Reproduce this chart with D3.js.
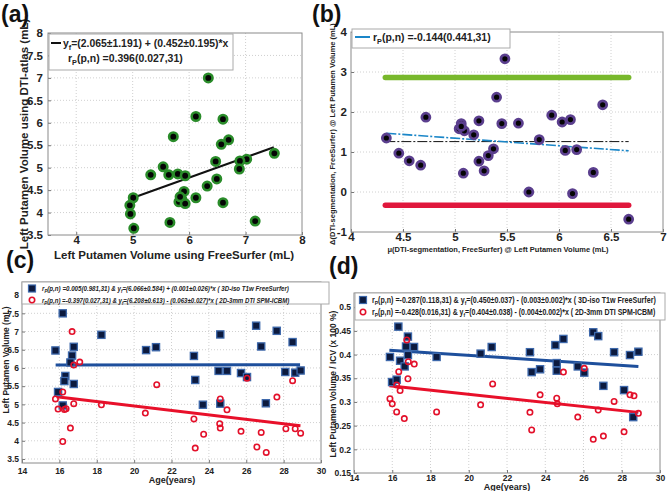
<!DOCTYPE html>
<html><head><meta charset="utf-8">
<script src="https://cdn.jsdelivr.net/npm/d3@7"></script>
<style>
html,body{margin:0;padding:0;background:#fff;}
svg text{font-family:"Liberation Sans",Arial,sans-serif;}
</style></head>
<body><svg id="c" width="667" height="491"></svg>
<script>
// ---------- DATA ----------
// Panel (a)
const aX = [6.34,6.12,6.60,5.72,6.70,6.57,7.51,7.02,6.90,6.47,5.54,6.89,5.32,5.64,5.80,5.93,6.49,6.32,5.91,5.01,6.12,5.87,5.82,5.93,6.60,4.95,4.96,5.66,7.17,5.02,5.84];
const aY = [7.00,6.14,6.08,5.69,5.62,5.52,5.32,5.19,5.15,5.14,5.02,4.97,4.84,4.84,4.86,4.82,4.75,4.59,4.47,4.33,4.33,4.30,4.24,4.20,4.22,4.16,3.97,3.78,3.81,3.65,4.35];
const aFitX = [5.02, 7.5];
const aFitY = [4.334, 5.455];
const aXTicks = [4,5,6,7,8];
const aYTicks = [3.5,4,4.5,5,5.5,6,6.5,7,7.5,8];
// Panel (b)
const bX = [5.48,5.40,6.42,5.93,4.72,6.03,6.11,5.23,5.45,5.61,5.06,5.04,5.09,5.18,4.34,5.81,5.37,4.46,6.06,6.17,5.32,4.56,5.23,4.67,5.28,5.08,6.33,5.71,6.13,6.67,5.06];
const bY = [3.33,2.37,2.18,1.92,1.87,1.75,1.81,1.78,1.71,1.72,1.71,1.58,1.53,1.43,1.35,1.31,1.08,0.97,1.04,1.06,0.91,0.78,0.77,0.67,0.53,0.47,0.49,0.00,-0.04,-0.68,1.64];
const bRangeX = [4.33, 6.67];
const bUpper = 2.86, bLower = -0.33, bMean = 1.26;
const bFitX = [4.34, 6.67];
const bFitY = [1.47, 1.03];
const bXTicks = [4,4.5,5,5.5,6,6.5,7];
const bYTicks = [-1,0,1,2,3,4];
// Panel (c)
const cBlueAge = [16.18,15.79,18.25,16.77,16.68,16.59,16.32,16.27,16.77,15.93,16.18,21.17,23.20,23.27,24.61,24.52,24.97,23.68,24.61,25.72,26.04,26.53,26.80,27.05,27.63,28.09,28.48,28.62,28.91,20.64];
const cBlueVal = [7.50,6.48,6.91,6.58,6.34,6.15,5.78,5.64,5.56,5.34,4.97,6.57,6.33,5.67,6.92,5.92,5.92,4.99,5.02,5.86,5.75,7.16,6.59,5.03,7.02,5.89,6.71,5.87,5.93,6.49];
const cRedAge = [16.68,17.09,16.77,16.18,15.79,16.77,15.93,16.27,16.36,16.59,16.18,18.25,21.21,23.20,23.27,23.72,24.61,24.58,24.61,24.97,25.72,26.04,26.57,26.80,27.07,27.64,28.12,28.48,28.62,28.91,20.60];
const cRedVal = [7.00,6.16,6.08,5.34,5.15,5.02,4.87,4.86,4.88,4.35,3.98,4.99,5.54,4.60,3.80,4.18,5.15,4.47,4.35,4.85,4.26,5.72,3.83,4.23,3.68,5.20,4.33,5.65,4.33,4.21,4.76];
const cBlueFitX = [15.8, 28.88], cBlueFitY = [6.08, 6.09];
const cRedFitX = [15.85, 28.9], cRedFitY = [5.21, 4.41];
const cXTicks = [14,16,18,20,22,24,26,28,30];
const cYTicks = [3.5,4,4.5,5,5.5,6,6.5,7,7.5,8];
// Panel (d)
const dBlueAge = [16.32,16.82,16.72,17.14,15.88,16.41,16.82,16.65,18.32,15.99,16.23,20.62,21.20,23.20,23.29,23.73,24.53,24.95,24.60,24.60,25.70,26.04,26.51,26.77,27.04,27.60,28.12,28.43,28.60,28.87];
const dBlueVal = [0.459,0.438,0.417,0.416,0.395,0.387,0.399,0.375,0.395,0.342,0.347,0.402,0.416,0.405,0.363,0.369,0.420,0.433,0.382,0.366,0.375,0.362,0.447,0.439,0.334,0.405,0.325,0.399,0.268,0.406];
const dRedAge = [16.76,16.84,17.15,16.34,16.82,16.23,16.41,15.88,16.00,16.23,16.63,18.32,20.62,21.25,23.20,23.29,23.73,24.95,24.60,24.63,25.70,26.04,26.51,26.77,27.04,27.60,28.12,28.43,28.64,28.87];
const dRedVal = [0.431,0.385,0.380,0.364,0.349,0.336,0.324,0.307,0.296,0.279,0.265,0.279,0.294,0.338,0.278,0.241,0.315,0.363,0.308,0.296,0.268,0.371,0.221,0.283,0.228,0.301,0.237,0.315,0.313,0.276];
const dBlueFitX = [15.85, 28.87], dBlueFitY = [0.409, 0.375];
const dRedFitX = [15.85, 28.87], dRedFitY = [0.334, 0.278];
const dXTicks = [14,16,18,20,22,24,26,28,30];
const dYTicks = [0.15,0.2,0.25,0.3,0.35,0.4,0.45,0.5];

// ---------- DRAW ----------
const svg = d3.select("#c");
const fmt = v => String(+v.toFixed(3));

// horizontally condense a text so it spans exactly `w` pixels
function fitWidth(t, x, w){
  const bw = t.node().getBBox().width;
  if (bw > 0) t.attr("transform", `translate(${x},0) scale(${w/bw},1) translate(${-x},0)`);
}

function frame(o){
  const g = svg.append("g");
  const x = d3.scaleLinear().domain(o.xd).range([o.l, o.r]);
  const y = d3.scaleLinear().domain(o.yd).range([o.b, o.t]);
  g.selectAll(".gx").data(o.xt.filter(v=>x(v)>o.l+0.5 && x(v)<o.r-0.5)).enter().append("line")
    .attr("x1",d=>x(d)).attr("x2",d=>x(d)).attr("y1",o.t).attr("y2",o.b)
    .attr("stroke","#c4c4c4").attr("stroke-width",0.8).attr("stroke-dasharray","1,2");
  g.selectAll(".gy").data(o.yt.filter(v=>y(v)>o.t+0.5 && y(v)<o.b-0.5)).enter().append("line")
    .attr("y1",d=>y(d)).attr("y2",d=>y(d)).attr("x1",o.l).attr("x2",o.r)
    .attr("stroke","#c4c4c4").attr("stroke-width",0.8).attr("stroke-dasharray","1,2");
  const ax = g.append("g").attr("transform",`translate(0,${o.b})`)
    .call(d3.axisBottom(x).tickValues(o.xt).tickFormat(fmt).tickSizeInner(-3).tickSizeOuter(0).tickPadding(o.xpad));
  const ay = g.append("g").attr("transform",`translate(${o.l},0)`)
    .call(d3.axisLeft(y).tickValues(o.yt).tickFormat(fmt).tickSizeInner(-3).tickSizeOuter(0).tickPadding(o.ypad));
  [ax,ay].forEach(a=>{
    a.select(".domain").remove();
    a.selectAll("line").attr("stroke","#777");
    a.selectAll("text").attr("font-size",o.fs).attr("font-weight","bold").attr("fill","#222")
     .attr("font-family","Liberation Sans, Arial, sans-serif");
  });
  g.append("rect").attr("x",o.l).attr("y",o.t).attr("width",o.r-o.l).attr("height",o.b-o.t)
    .attr("fill","none").attr("stroke","#8a8a8a").attr("stroke-width",1);
  return {g,x,y};
}

function label(txt, x, y, fs, rot){
  const t = svg.append("text").attr("x",x).attr("y",y).attr("font-size",fs)
    .attr("font-weight","bold").attr("fill","#222").attr("text-anchor","middle").text(txt);
  if (rot) t.attr("transform",`rotate(-90,${x},${y})`);
  return t;
}

// ===== Panel (a) =====
{
  const {g,x,y} = frame({l:48,r:302,t:33,b:235,xd:[3.5,8],yd:[3.5,8],xt:aXTicks,yt:aYTicks,fs:11.5,xpad:1,ypad:5});
  g.append("line").attr("x1",x(aFitX[0])).attr("x2",x(aFitX[1])).attr("y1",y(aFitY[0])).attr("y2",y(aFitY[1]))
    .attr("stroke","#111").attr("stroke-width",2);
  g.selectAll(".pa").data(aX.map((v,i)=>[v,aY[i]])).enter().append("circle")
    .attr("cx",d=>x(d[0])).attr("cy",d=>y(d[1])).attr("r",4.2)
    .attr("fill","#050505").attr("stroke","#2a8c2a").attr("stroke-width",2.6);
  g.append("rect").attr("x",49).attr("y",34).attr("width",184).attr("height",36).attr("fill","#fff").attr("stroke","#aaa");
  g.append("line").attr("x1",51).attr("x2",61).attr("y1",43).attr("y2",43).attr("stroke","#111").attr("stroke-width",2);
  const t1 = g.append("text").attr("x",63).attr("y",47).attr("font-size",11.5).attr("font-weight","bold").attr("fill","#222");
  t1.append("tspan").text("y");
  t1.append("tspan").attr("dy",3).attr("font-size",8).text("f");
  t1.append("tspan").attr("dy",-3).text("=(2.065±1.191) + (0.452±0.195)*x");
  fitWidth(t1, 63, 166);
  const t2 = g.append("text").attr("x",68).attr("y",62).attr("font-size",11.5).attr("font-weight","bold").attr("fill","#222");
  t2.append("tspan").text("r");
  t2.append("tspan").attr("dy",3).attr("font-size",8).text("P");
  t2.append("tspan").attr("dy",-3).text("(p,n) =0.396(0.027,31)");
  fitWidth(t2, 68, 115);
  label("Left Putamen Volume using DTI-atlas (mL)", 28, 134, 11.5, true);
  label("Left Putamen Volume using FreeSurfer (mL)", 174, 259, 11.5);
  svg.append("text").attr("x",1).attr("y",22).attr("font-size",23).attr("font-weight","bold").attr("fill","#111").text("(a)");
}

// ===== Panel (b) =====
{
  const {g,x,y} = frame({l:351,r:663,t:32,b:232,xd:[4,7],yd:[-1,4],xt:bXTicks,yt:bYTicks,fs:11.5,xpad:1,ypad:4});
  g.append("line").attr("x1",x(bRangeX[0])).attr("x2",x(bRangeX[1])).attr("y1",y(bUpper)).attr("y2",y(bUpper))
    .attr("stroke","#78b82c").attr("stroke-width",5.5).attr("stroke-linecap","round");
  g.append("line").attr("x1",x(bRangeX[0])).attr("x2",x(bRangeX[1])).attr("y1",y(bLower)).attr("y2",y(bLower))
    .attr("stroke","#e0173c").attr("stroke-width",5.5).attr("stroke-linecap","round");
  g.append("line").attr("x1",x(bRangeX[0])).attr("x2",x(bRangeX[1])).attr("y1",y(bMean)).attr("y2",y(bMean))
    .attr("stroke","#111").attr("stroke-width",1).attr("stroke-dasharray","10,2,2,2");
  g.append("line").attr("x1",x(bFitX[0])).attr("x2",x(bFitX[1])).attr("y1",y(bFitY[0])).attr("y2",y(bFitY[1]))
    .attr("stroke","#1a86c8").attr("stroke-width",1.6).attr("stroke-dasharray","10,2,2,2");
  g.selectAll(".pb").data(bX.map((v,i)=>[v,bY[i]])).enter().append("circle")
    .attr("cx",d=>x(d[0])).attr("cy",d=>y(d[1])).attr("r",4)
    .attr("fill","#050505").attr("stroke","#5b3f8e").attr("stroke-width",2.8);
  g.append("rect").attr("x",352).attr("y",29).attr("width",158).attr("height",19).attr("fill","#fff").attr("stroke","#aaa");
  g.append("line").attr("x1",355).attr("x2",370).attr("y1",37).attr("y2",37).attr("stroke","#1a86c8").attr("stroke-width",2);
  const t = g.append("text").attr("x",373).attr("y",41).attr("font-size",11.5).attr("font-weight","bold").attr("fill","#222");
  t.append("tspan").text("r");
  t.append("tspan").attr("dy",3).attr("font-size",8).text("P");
  t.append("tspan").attr("dy",-3).text("(p,n) =-0.144(0.441,31)");
  fitWidth(t, 373, 118);
  label("Δ(DTI-segmentation, FreeSurfer) @ Left Putamen Volume (mL)", 335, 134, 7.5, true);
  label("μ(DTI-segmentation, FreeSurfer) @ Left Putamen Volume (mL)", 498, 252, 7.5);
  svg.append("text").attr("x",312).attr("y",22).attr("font-size",23).attr("font-weight","bold").attr("fill","#111").text("(b)");
}

function seriesPanel(o){
  const {g,x,y} = frame(o.frame);
  g.append("line").attr("x1",x(o.bfx[0])).attr("x2",x(o.bfx[1])).attr("y1",y(o.bfy[0])).attr("y2",y(o.bfy[1]))
    .attr("stroke","#1e4f9c").attr("stroke-width",3);
  g.append("line").attr("x1",x(o.rfx[0])).attr("x2",x(o.rfx[1])).attr("y1",y(o.rfy[0])).attr("y2",y(o.rfy[1]))
    .attr("stroke","#e8102a").attr("stroke-width",3);
  g.selectAll(".sq").data(o.ba.map((v,i)=>[v,o.bv[i]])).enter().append("rect")
    .attr("x",d=>x(d[0])-3.6).attr("y",d=>y(d[1])-3.6).attr("width",7.2).attr("height",7.2)
    .attr("fill","#0c1a3e").attr("stroke","#3d68ab").attr("stroke-width",1.3);
  g.selectAll(".ci").data(o.ra.map((v,i)=>[v,o.rv[i]])).enter().append("circle")
    .attr("cx",d=>x(d[0])).attr("cy",d=>y(d[1])).attr("r",2.7)
    .attr("fill","none").attr("stroke","#e3102a").attr("stroke-width",1.6);
  const L = o.leg;
  g.append("rect").attr("x",L.x).attr("y",L.y).attr("width",L.w).attr("height",L.h).attr("fill","#fff").attr("stroke","#aaa");
  g.append("rect").attr("x",L.mx-3.5).attr("y",L.y1-3.5).attr("width",7).attr("height",7)
    .attr("fill","#0c1a3e").attr("stroke","#3d68ab").attr("stroke-width",1.2);
  g.append("circle").attr("cx",L.mx).attr("cy",L.y2).attr("r",2.7).attr("fill","none").attr("stroke","#e3102a").attr("stroke-width",1.6);
  [[L.y1,L.t1],[L.y2,L.t2]].forEach(([yy,parts])=>{
    const t = g.append("text").attr("x",L.tx).attr("y",yy+L.fs*0.35).attr("font-size",L.fs).attr("font-weight","bold")
      .attr("font-style",L.italic?"italic":"normal").attr("fill","#222");
    t.append("tspan").text("r");
    t.append("tspan").attr("dy",2).attr("font-size",L.fs*0.7).text("P");
    t.append("tspan").attr("dy",-2).text(parts[0]);
    t.append("tspan").attr("dy",2).attr("font-size",L.fs*0.7).text("f");
    t.append("tspan").attr("dy",-2).text(parts[1]);
    fitWidth(t, L.tx, L.tw);
  });
}

// ===== Panel (c) =====
seriesPanel({
  frame:{l:22,r:321,t:282,b:463,xd:[14,30],yd:[3.39,8.36],xt:cXTicks,yt:cYTicks,fs:8.5,xpad:5,ypad:3},
  ba:cBlueAge,bv:cBlueVal,ra:cRedAge,rv:cRedVal,bfx:cBlueFitX,bfy:cBlueFitY,rfx:cRedFitX,rfy:cRedFitY,
  leg:{x:22,y:282,w:307,h:22,mx:32,y1:288.5,y2:300,tx:42,tw:248,fs:7.5,italic:true,
    t1:["(p,n) =0.005(0.981,31) & y","=(6.066±0.584) + (0.001±0.026)*x ( 3D-iso T1w FreeSurfer)"],
    t2:["(p,n) =-0.397(0.027,31) & y","=(6.208±0.613) - (0.063±0.027)*x ( 2D-3mm DTI SPM-ICBM)"]}
});
label("Left Putamen Volume (mL)", 9, 360, 8.5, true);
label("Age(years)", 172, 483, 9);
svg.append("text").attr("x",6).attr("y",268).attr("font-size",23).attr("font-weight","bold").attr("fill","#111").text("(c)");

// ===== Panel (d) =====
seriesPanel({
  frame:{l:354,r:660,t:293,b:473,xd:[14,30],yd:[0.15,0.53],xt:dXTicks,yt:dYTicks,fs:8.5,xpad:2,ypad:3},
  ba:dBlueAge,bv:dBlueVal,ra:dRedAge,rv:dRedVal,bfx:dBlueFitX,bfy:dBlueFitY,rfx:dRedFitX,rfy:dRedFitY,
  leg:{x:355,y:293,w:310,h:27,mx:363,y1:300,y2:312,tx:372,tw:284,fs:8.5,italic:false,
    t1:["(p,n) =-0.287(0.118,31) & y","=(0.450±0.037) - (0.003±0.002)*x ( 3D-iso T1w FreeSurfer)"],
    t2:["(p,n) =-0.428(0.016,31) & y","=(0.404±0.038) - (0.004±0.002)*x ( 2D-3mm DTI SPM-ICBM)"]}
});
label("Left Putamen Volume / ICV (x 100 %)", 336, 384, 8.5, true);
label("Age(years)", 507, 490, 9);
svg.append("text").attr("x",329).attr("y",274).attr("font-size",23).attr("font-weight","bold").attr("fill","#111").text("(d)");
</script></body></html>
